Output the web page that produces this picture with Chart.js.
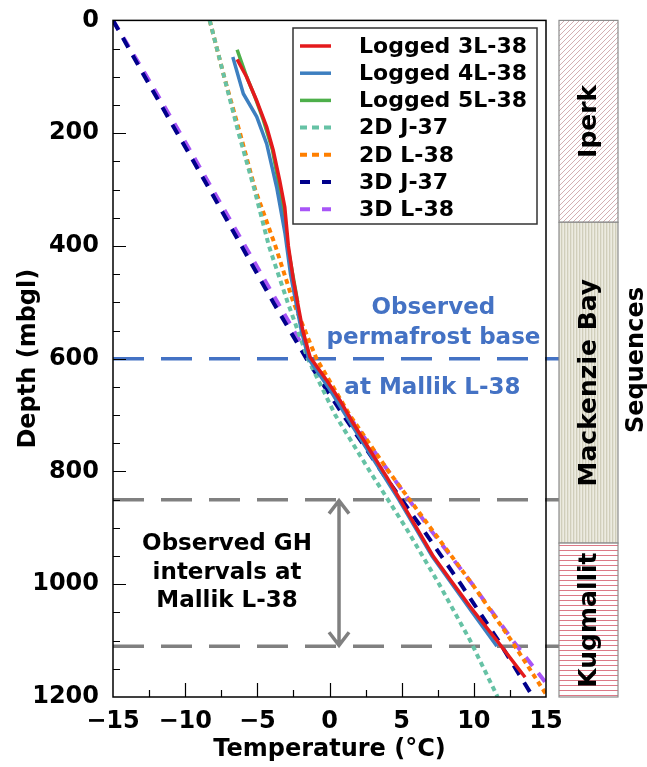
<!DOCTYPE html>
<html>
<head>
<meta charset="utf-8">
<script src="https://cdn.jsdelivr.net/npm/chart.js@4.4.1/dist/chart.umd.min.js"></script>
<style>
  html, body { margin: 0; padding: 0; background: #fff; }
  #wrap { width: 647px; height: 767px; }
</style>
</head>
<body>
<div id="wrap"><canvas id="tempChart" width="647" height="767"></canvas></div>
<script>
// logged temperature profiles (depth in m, temperature in °C)
const log3Depth = [69, 100, 142, 189, 230, 284, 331, 400, 461, 550, 597, 638, 674, 715, 810, 850, 951, 1000, 1040, 1100, 1165];
const log3Temp  = [-6.4, -5.75, -5.05, -4.35, -3.9, -3.45, -3.1, -2.85, -2.5, -1.85, -1.35, -0.2, 0.73, 1.65, 3.97, 4.89, 7.2, 8.6, 9.75, 11.6, 13.55];

const log4Depth = [65, 130, 171, 219, 296, 378, 450, 550, 600, 650, 720, 850, 950, 1050, 1110];
const log4Temp  = [-6.7, -5.97, -5.04, -4.35, -3.66, -3.08, -2.7, -1.95, -1.45, -0.1, 1.6, 4.8, 7.1, 9.9, 11.6];

const log5Depth = [52, 100, 136, 177, 230, 300, 400, 500];
const log5Temp  = [-6.4, -5.74, -5.16, -4.58, -3.95, -3.45, -2.9, -2.2];

// modelled profiles
const modelDepth = [0, 100, 200, 300, 400, 500, 600, 700, 800, 900, 1000, 1100, 1200];
const j37_2D = [-8.3, -7.3, -6.3, -5.2, -4.2, -2.9, -1.5, 0.4, 2.8, 5.3, 7.6, 9.75, 11.65];
const j37_3D = [-15, -12.8, -10.55, -8.3, -6.1, -3.9, -1.6, 0.95, 3.6, 6.4, 9.1, 11.7, 14.1];

const l38Depth = [0, 100, 200, 300, 400, 500, 600, 700, 800, 900, 1000, 1100, 1195];
const l38_2D = [-8.3, -7.3, -6.2, -5.15, -3.75, -2.5, -0.9, 1.4, 4.1, 7.0, 9.9, 12.6, 15];
const l38_3DDepth = [0, 100, 200, 300, 400, 500, 600, 700, 800, 900, 1000, 1100, 1175];
const l38_3D = [-15, -12.65, -10.35, -8.1, -5.85, -3.6, -1.35, 1.3, 4.1, 6.9, 9.9, 12.7, 15];

// observed depths at Mallik L-38
const permafrostBase = 600;
const ghIntervals = [850, 1110];
const ghArrowTemp = 0.66;
const refLineEnd = 16;   // reference lines run past the frame into the column

// stratigraphic sequences
const seqNames = ['Iperk', 'Mackenzie Bay', 'Kugmallit'];
const seqTop   = [0, 358, 927];
const seqBase  = [358, 927, 1200];

const FONT = "'DejaVu Sans', Verdana, sans-serif";
Chart.defaults.font.family = FONT;

function pts(temps, depths) {
  return temps.map((t, i) => ({ x: t, y: depths[i] }));
}

function line(label, temps, depths, color, dash) {
  return {
    label: label,
    data: pts(temps, depths),
    borderColor: color,
    backgroundColor: color,
    borderWidth: dash ? 4 : 3.5,
    borderDash: dash || [],
    borderCapStyle: 'butt',
    pointRadius: 0,
    showLine: true,
    tension: 0
  };
}

function makePattern(ctx, w, h, paint) {
  const c = document.createElement('canvas');
  c.width = w; c.height = h;
  paint(c.getContext('2d'));
  return ctx.createPattern(c, 'repeat');
}

function hLine(ctx, x0, x1, yy, color) {
  ctx.strokeStyle = color;
  ctx.beginPath();
  ctx.moveTo(x0, yy);
  ctx.lineTo(x1, yy);
  ctx.stroke();
}

function vText(ctx, text, cx, cy) {
  ctx.save();
  ctx.translate(cx, cy);
  ctx.rotate(-Math.PI / 2);
  ctx.fillText(text, 0, 0);
  ctx.restore();
}

const decor = {
  id: 'decor',
  beforeDatasetsDraw(chart) {
    const { ctx, chartArea: a, scales: { x, y } } = chart;
    ctx.save();
    ctx.lineWidth = 3.5;
    ctx.setLineDash([31, 17]);
    const xEnd = x.getPixelForValue(refLineEnd);
    hLine(ctx, a.left, xEnd, y.getPixelForValue(permafrostBase), '#4472c4');
    ghIntervals.forEach(d => hLine(ctx, a.left, xEnd, y.getPixelForValue(d), '#808080'));

    // double arrow spanning the GH interval
    ctx.setLineDash([]);
    ctx.strokeStyle = '#808080';
    const ax = x.getPixelForValue(ghArrowTemp);
    const y0 = y.getPixelForValue(ghIntervals[0]);
    const y1 = y.getPixelForValue(ghIntervals[1]);
    ctx.beginPath();
    ctx.moveTo(ax, y0 + 1); ctx.lineTo(ax, y1 - 1);
    ctx.moveTo(ax - 10, y0 + 14); ctx.lineTo(ax, y0 + 1); ctx.lineTo(ax + 10, y0 + 14);
    ctx.moveTo(ax - 10, y1 - 14); ctx.lineTo(ax, y1 - 1); ctx.lineTo(ax + 10, y1 - 14);
    ctx.stroke();
    ctx.restore();
  },
  afterDraw(chart) {
    const { ctx, chartArea: a, scales: { x, y } } = chart;
    ctx.save();

    // frame
    ctx.strokeStyle = '#000';
    ctx.lineWidth = 1.5;
    ctx.strokeRect(a.left, a.top, a.right - a.left, a.bottom - a.top);

    // inward ticks, long on labelled values
    ctx.lineWidth = 1.2;
    ctx.beginPath();
    for (let d = 50; d < 1200; d += 50) {
      const py = Math.round(y.getPixelForValue(d)) + 0.5;
      const len = d % 200 === 0 ? 13 : 7;
      ctx.moveTo(a.left, py); ctx.lineTo(a.left + len, py);
    }
    for (let t = -12.5; t < 15; t += 2.5) {
      const px = Math.round(x.getPixelForValue(t)) + 0.5;
      const len = t % 5 === 0 ? 14 : 7;
      ctx.moveTo(px, a.bottom); ctx.lineTo(px, a.bottom - len);
    }
    ctx.stroke();

    // sequence column
    const cx0 = 559, cx1 = 618;
    const fills = [
      makePattern(ctx, 5, 5, g => {
        g.fillStyle = '#fff'; g.fillRect(0, 0, 5, 5);
        g.strokeStyle = '#c99a9e'; g.lineWidth = 0.8;
        g.beginPath(); g.moveTo(-1, 6); g.lineTo(6, -1); g.stroke();
      }),
      makePattern(ctx, 3, 4, g => {
        g.fillStyle = '#e4e2d4'; g.fillRect(0, 0, 3, 4);
        g.fillStyle = '#d0cebb'; g.fillRect(0, 0, 1, 4);
        g.fillStyle = '#ecebe1'; g.fillRect(2, 0, 1, 4);
      }),
      makePattern(ctx, 4, 5, g => {
        g.fillStyle = '#fff'; g.fillRect(0, 0, 4, 5);
        g.fillStyle = '#dc7886'; g.fillRect(0, 0, 4, 1);
      })
    ];
    ctx.font = 'bold 25px ' + FONT;
    ctx.textAlign = 'center';
    ctx.textBaseline = 'middle';
    seqNames.forEach((name, i) => {
      const top = y.getPixelForValue(seqTop[i]);
      const bot = y.getPixelForValue(seqBase[i]);
      ctx.fillStyle = fills[i];
      ctx.fillRect(cx0, top, cx1 - cx0, bot - top);
      ctx.strokeStyle = '#8c8c8c';
      ctx.lineWidth = 1.2;
      ctx.strokeRect(cx0, top, cx1 - cx0, bot - top);
      ctx.fillStyle = '#000';
      vText(ctx, name, (cx0 + cx1) / 2 + 1, (top + bot) / 2);
    });
    ctx.font = 'bold 24px ' + FONT;
    vText(ctx, 'Sequences', 637, 360);

    // annotations
    ctx.font = 'bold 23px ' + FONT;
    ctx.fillStyle = '#4472c4';
    const bx = x.getPixelForValue(7.2);
    ctx.fillText('Observed', bx, y.getPixelForValue(511));
    ctx.fillText('permafrost base', bx, y.getPixelForValue(564));
    ctx.fillText('at Mallik L-38', bx - 1, y.getPixelForValue(652));

    ctx.fillStyle = '#000';
    const gx = x.getPixelForValue(-7.1);
    ctx.fillText('Observed GH', gx, y.getPixelForValue(929));
    ctx.fillText('intervals at', gx, y.getPixelForValue(980));
    ctx.fillText('Mallik L-38', gx, y.getPixelForValue(1030));

    // legend
    const lx = 293, ly = 28, lw = 244, lh = 196;
    ctx.fillStyle = '#fff';
    ctx.fillRect(lx, ly, lw, lh);
    ctx.strokeStyle = '#333';
    ctx.lineWidth = 1.5;
    ctx.strokeRect(lx, ly, lw, lh);
    ctx.font = 'bold 22px ' + FONT;
    ctx.textAlign = 'left';
    chart.data.datasets.forEach((ds, i) => {
      const ry = 46 + i * 27.2;
      ctx.strokeStyle = ds.borderColor;
      ctx.lineWidth = ds.borderWidth;
      ctx.setLineDash(ds.borderDash.length ? ds.legendDash : []);
      ctx.beginPath();
      ctx.moveTo(300, ry); ctx.lineTo(331, ry);
      ctx.stroke();
      ctx.setLineDash([]);
      ctx.fillStyle = '#000';
      ctx.fillText(ds.label, 359, ry + 1);
    });
    ctx.restore();
  }
};

const datasets = [
  line('Logged 3L-38', log3Temp, log3Depth, '#e41a1c'),
  line('Logged 4L-38', log4Temp, log4Depth, '#3d7fc0'),
  line('Logged 5L-38', log5Temp, log5Depth, '#4daf4a'),
  line('2D J-37', j37_2D, modelDepth, '#66c2a5', [5, 4]),
  line('2D L-38', l38_2D, l38Depth, '#ff7f00', [5, 4]),
  line('3D J-37', j37_3D, modelDepth, '#00008b', [11, 9]),
  line('3D L-38', l38_3D, l38_3DDepth, '#a855f7', [11, 9])
];
datasets[3].legendDash = [7, 5];
datasets[4].legendDash = [7, 5];
datasets[5].legendDash = [10, 12];
datasets[6].legendDash = [10, 12];

const tickFont = { size: 24, weight: 'bold', family: FONT };

new Chart(document.getElementById('tempChart'), {
  type: 'scatter',
  data: { datasets: datasets },
  options: {
    responsive: false,
    animation: false,
    layout: { padding: { top: 20, right: 101, bottom: 0, left: 0 } },
    plugins: {
      legend: { display: false },
      tooltip: { enabled: false }
    },
    scales: {
      x: {
        type: 'linear',
        min: -15,
        max: 15,
        grid: { display: false },
        border: { display: false },
        ticks: {
          stepSize: 5,
          padding: 2,
          color: '#000',
          font: tickFont,
          callback: v => String(v).replace('-', '\u2212')
        },
        title: {
          display: true,
          text: 'Temperature (°C)',
          color: '#000',
          font: { size: 24, weight: 'bold', family: FONT },
          padding: { top: 0, bottom: 3 }
        },
        afterFit: s => { s.height = 70; }
      },
      y: {
        type: 'linear',
        reverse: true,
        min: 0,
        max: 1200,
        grid: { display: false },
        border: { display: false },
        ticks: {
          stepSize: 200,
          padding: 6,
          color: '#000',
          font: tickFont,
          callback: v => String(v)
        },
        title: {
          display: true,
          text: 'Depth (mbgl)',
          color: '#000',
          font: { size: 24, weight: 'bold', family: FONT },
          padding: { top: 14, bottom: 0 }
        },
        afterFit: s => { s.width = 113; }
      }
    }
  },
  plugins: [decor]
});
</script>
</body>
</html>
